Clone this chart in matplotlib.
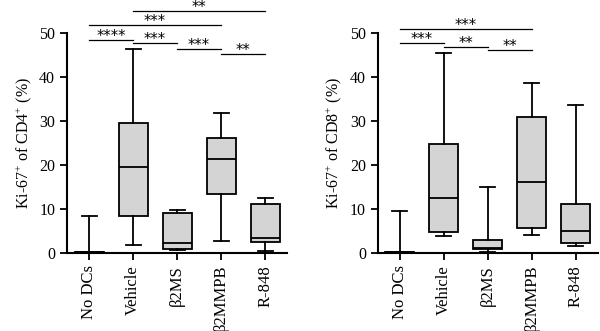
import numpy as np
import matplotlib.pyplot as plt

plt.rcParams["font.family"] = "serif"
plt.rcParams["font.serif"] = ["Liberation Serif", "DejaVu Serif"]
plt.rcParams["mathtext.fontset"] = "custom"
plt.rcParams["mathtext.rm"] = "Liberation Serif"

groups = ['No DCs', 'Vehicle', 'β2MS', 'β2MMPB', 'R-848']

# whislo, q1, med, q3, whishi
cd4_lo = [0.0, 1.9, 0.6, 2.8, 0.5]
cd4_q1 = [0.0, 8.3, 0.8, 13.3, 2.6]
cd4_med = [0.2, 19.6, 2.2, 21.4, 3.4]
cd4_q3 = [0.3, 29.5, 9.0, 26.2, 11.1]
cd4_hi = [8.4, 46.4, 9.8, 31.9, 12.6]

cd8_lo = [0.0, 3.9, 0.3, 4.1, 1.7]
cd8_q1 = [0.0, 4.7, 0.8, 5.7, 2.3]
cd8_med = [0.2, 12.6, 1.2, 16.1, 4.9]
cd8_q3 = [0.3, 24.7, 3.0, 30.8, 11.1]
cd8_hi = [9.5, 45.5, 15.0, 38.6, 33.6]

# (start group, end group, height, label)
cd4_sig = [(0, 1, 48.4, '****'), (1, 2, 47.8, '***'), (2, 3, 46.4, '***'),
           (3, 4, 45.2, '**'), (0, 3, 51.9, '***'), (1, 4, 54.9, '**')]
cd8_sig = [(0, 1, 47.7, '***'), (1, 2, 46.8, '**'), (2, 3, 46.1, '**'),
           (0, 3, 50.8, '***')]

fig = plt.figure(figsize=(6, 3.31), dpi=100)
ax1 = fig.add_axes([0.1117, 0.2356, 0.3667, 0.6647])
ax2 = fig.add_axes([0.6295, 0.2356, 0.3667, 0.6647])


def draw(ax, lo, q1, med, q3, hi, sig, ylabel):
    stats = []
    for i in range(len(groups)):
        stats.append(dict(whislo=lo[i], q1=q1[i], med=med[i], q3=q3[i], whishi=hi[i]))
    ax.bxp(stats, positions=range(len(groups)), widths=0.66, capwidths=0.34,
           showfliers=False, patch_artist=True,
           boxprops=dict(facecolor='#d4d4d4', edgecolor='black', linewidth=1.3),
           medianprops=dict(color='black', linewidth=1.3),
           whiskerprops=dict(color='black', linewidth=1.3),
           capprops=dict(color='black', linewidth=1.3))
    ax.set_xlim(-0.5, 4.5)
    ax.set_ylim(0, 50)
    ax.set_yticks([0, 10, 20, 30, 40, 50])
    ax.set_xticks(range(len(groups)))
    ax.set_xticklabels(groups, rotation=90, fontsize=12)
    ax.tick_params(axis='y', labelsize=11.5, width=1.3, length=5)
    ax.tick_params(axis='x', width=1.3, length=5)
    for s in ['top', 'right']:
        ax.spines[s].set_visible(False)
    for s in ['left', 'bottom']:
        ax.spines[s].set_linewidth(1.5)
    ax.set_ylabel(ylabel, fontsize=11.5)
    for a, b, h, lab in sig:
        ax.plot([a, b], [h, h], color='black', linewidth=0.9, clip_on=False)
        ax.text((a + b) / 2, h - 0.2, lab, ha='center', va='baseline',
                fontsize=10.5, family='DejaVu Sans', clip_on=False)


draw(ax1, cd4_lo, cd4_q1, cd4_med, cd4_q3, cd4_hi, cd4_sig, 'Ki-67$^{+}$ of CD4$^{+}$ (%)')
draw(ax2, cd8_lo, cd8_q1, cd8_med, cd8_q3, cd8_hi, cd8_sig, 'Ki-67$^{+}$ of CD8$^{+}$ (%)')

fig.savefig('out.png', dpi=100)
